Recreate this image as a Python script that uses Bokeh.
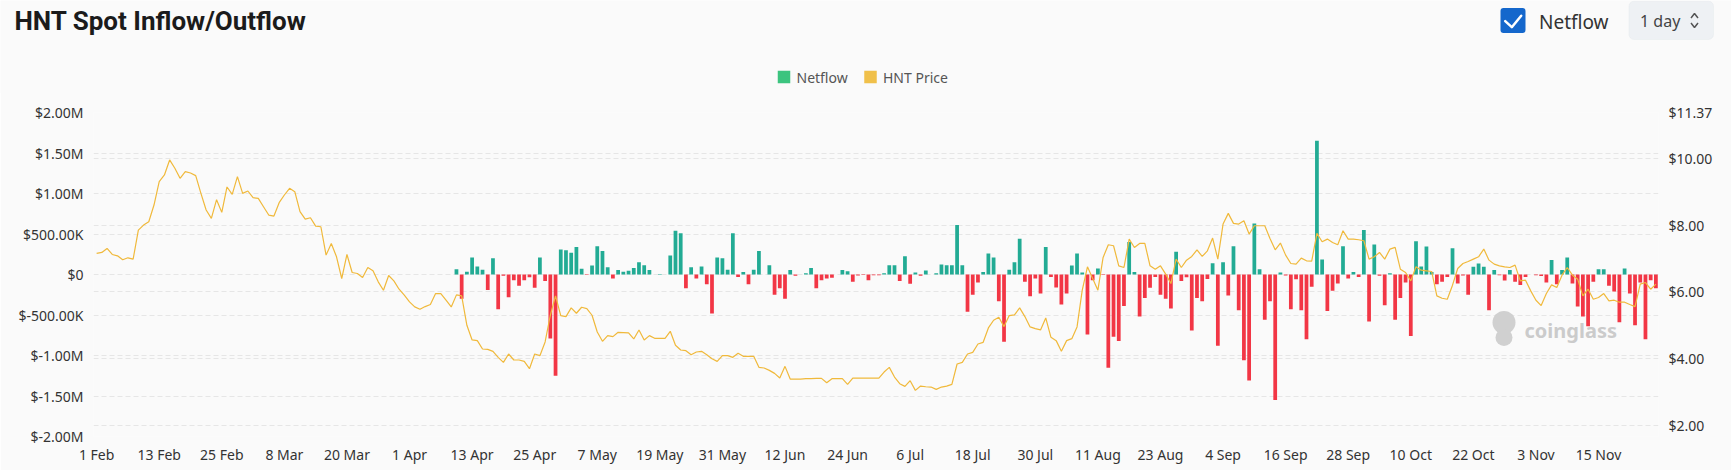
import pandas as pd
from bokeh.plotting import figure
from bokeh.models import (Range1d, LinearAxis, FixedTicker, Grid, NumeralTickFormatter,
                          ColumnDataSource, BoxAnnotation, Label)
from bokeh.layouts import column
from bokeh.embed import file_html
from bokeh.resources import INLINE
from bokeh.core.properties import value

# ---------------- data ----------------
title_text = "HNT Spot Inflow/Outflow"
series_names = ["Netflow", "HNT Price"]
dates = pd.date_range("2024-02-01", "2024-11-26", freq="D")

price = [
    7.15, 7.18, 7.30, 7.12, 7.08, 6.96, 7.02, 6.98, 7.85, 8.00,
    8.10, 8.60, 9.30, 9.50, 9.95, 9.70, 9.40, 9.60, 9.56, 9.48,
    8.95, 8.45, 8.20, 8.76, 8.38, 9.14, 8.92, 9.45, 8.95, 9.02,
    8.82, 8.80, 8.55, 8.30, 8.27, 8.67, 8.90, 9.10, 9.00, 8.40,
    8.18, 8.22, 7.97, 7.95, 7.10, 7.45, 7.05, 6.40, 7.12, 6.58,
    6.55, 6.43, 6.73, 6.63, 6.30, 6.05, 6.49, 6.33, 6.08, 5.90,
    5.70, 5.55, 5.48, 5.56, 5.62, 5.95, 5.95, 5.75, 5.55, 5.91,
    5.88, 5.00, 4.56, 4.54, 4.29, 4.28, 4.22, 4.04, 3.89, 4.14,
    3.96, 3.96, 3.92, 3.70, 4.14, 4.09, 4.50, 5.30, 5.88, 5.29,
    5.26, 5.52, 5.36, 5.54, 5.50, 5.30, 4.80, 4.52, 4.69, 4.66,
    4.79, 4.78, 4.77, 4.59, 4.86, 4.56, 4.69, 4.61, 4.61, 4.61,
    4.82, 4.40, 4.26, 4.24, 4.12, 4.20, 4.22, 4.12, 4.00, 3.92,
    4.09, 4.09, 4.04, 4.16, 4.07, 4.07, 4.07, 3.74, 3.72, 3.65,
    3.56, 3.42, 3.77, 3.39, 3.39, 3.39, 3.40, 3.40, 3.41, 3.41,
    3.28, 3.40, 3.40, 3.40, 3.23, 3.42, 3.42, 3.42, 3.42, 3.42,
    3.42, 3.60, 3.74, 3.45, 3.25, 3.17, 3.34, 3.05, 3.18, 3.16,
    3.15, 3.08, 3.15, 3.18, 3.23, 3.84, 3.89, 4.14, 4.19, 4.44,
    4.49, 4.92, 5.15, 5.24, 4.96, 5.29, 5.31, 5.52, 5.26, 4.95,
    4.90, 4.86, 5.22, 4.64, 4.54, 4.22, 4.54, 4.60, 4.95, 6.05,
    6.75, 6.40, 6.05, 7.03, 7.41, 7.38, 6.78, 6.73, 7.58, 7.33,
    7.45, 7.45, 6.78, 6.68, 6.78, 6.53, 6.25, 6.98, 6.73, 6.95,
    7.06, 7.26, 7.06, 7.23, 7.61, 6.98, 8.03, 8.35, 8.05, 8.03,
    8.13, 7.73, 7.98, 7.98, 7.98, 7.60, 7.26, 7.46, 7.10, 6.85,
    6.83, 7.01, 6.93, 6.92, 7.75, 7.50, 7.58, 7.48, 7.41, 7.83,
    7.58, 7.58, 7.56, 7.53, 6.98, 7.05, 7.18, 6.98, 7.28, 7.33,
    6.68, 6.58, 6.33, 6.75, 6.65, 6.63, 6.61, 5.88, 5.81, 5.78,
    6.20, 6.70, 6.85, 6.91, 6.98, 7.05, 7.28, 6.95, 6.83, 6.78,
    6.75, 6.73, 6.80, 6.33, 6.35, 6.03, 5.75, 5.59, 5.95, 6.21,
    6.13, 6.50, 6.73, 6.50, 6.38, 5.88, 6.08, 5.78, 5.83, 5.95,
    5.73, 5.75, 5.69, 5.69, 5.62, 5.56, 6.23, 6.28, 6.08, 6.23,
]

netflow_start = "2024-04-10"
netflow_m = [  # $ millions, daily from netflow_start
    0.066, -0.30, 0.033, 0.21, 0.10, 0.06, -0.19, 0.20, -0.43, -0.015, -0.28,
    -0.07, -0.14, -0.07, -0.035, -0.165, 0.21, -0.08, -0.79, -1.25, 0.31,
    0.30, 0.27, 0.34, 0.07, -0.005, 0.11, 0.35, 0.29, 0.09, -0.05,
    0.055, 0.033, 0.045, 0.08, 0.15, 0.115, 0.055, 0.0, 0.005, 0.0,
    0.235, 0.54, 0.51, -0.17, 0.09, -0.05, 0.10, -0.12, -0.48, 0.21,
    0.20, 0.06, 0.51, -0.03, 0.03, -0.12, 0.06, 0.29, 0.0, 0.115,
    -0.25, -0.17, -0.30, 0.055, -0.015, 0.0, 0.015, 0.08, -0.17, -0.07,
    -0.05, -0.04, 0.0, 0.055, 0.04, -0.09, -0.013, -0.005, -0.07, -0.01,
    -0.008, 0.015, 0.115, 0.115, -0.08, 0.225, -0.115, 0.025, -0.015, 0.05,
    0.0, 0.015, 0.125, 0.115, 0.115, 0.61, 0.115, -0.46, -0.25, -0.10,
    0.03, 0.26, 0.21, -0.33, -0.83, 0.06, 0.15, 0.44, -0.09, -0.27,
    -0.05, -0.235, 0.34, -0.03, -0.16, -0.37, -0.235, 0.11, 0.26, 0.025,
    -0.74, -0.07, 0.075, -0.005, -1.15, -0.77, -0.82, -0.39, 0.40, 0.03,
    -0.52, -0.29, -0.165, -0.03, -0.25, -0.30, -0.42, 0.28, -0.08, -0.035,
    -0.69, -0.29, -0.33, -0.055, 0.14, -0.88, 0.15, -0.26, 0.35, -0.44,
    -1.06, -1.31, 0.63, 0.065, -0.56, -0.33, -1.55, 0.025, -0.013, -0.43,
    -0.06, -0.44, -0.80, -0.15, 1.65, 0.185, -0.45, -0.20, -0.11, 0.35,
    -0.05, 0.03, -0.03, 0.55, -0.58, 0.37, -0.015, -0.38, 0.015, -0.56,
    -0.29, -0.10, -0.76, 0.41, 0.10, 0.345, 0.03, -0.12, -0.09, -0.03,
    0.325, -0.11, -0.012, -0.25, 0.095, 0.135, 0.095, -0.44, 0.055, -0.01,
    -0.075, 0.055, -0.09, -0.13, -0.03, 0.0, -0.01, -0.02, -0.10, 0.18,
    -0.12, 0.055, 0.21, -0.11, -0.395, -0.52, -0.64, -0.09, 0.065, 0.065,
    -0.14, -0.21, -0.59, 0.075, -0.235, -0.625, -0.10, -0.80, -0.07, -0.17,
]

left_ticks = [-2000000, -1500000, -1000000, -500000, 0, 500000, 1000000, 1500000, 2000000]
left_labels = ["$-2.00M", "$-1.50M", "$-1.00M", "$-500.00K", "$0",
               "$500.00K", "$1.00M", "$1.50M", "$2.00M"]
right_ticks = [2, 4, 6, 8, 10, 11.37]
x_tick_dates = ["2024-02-01", "2024-02-13", "2024-02-25", "2024-03-08", "2024-03-20",
                "2024-04-01", "2024-04-13", "2024-04-25", "2024-05-07", "2024-05-19",
                "2024-05-31", "2024-06-12", "2024-06-24", "2024-07-06", "2024-07-18",
                "2024-07-30", "2024-08-11", "2024-08-23", "2024-09-04", "2024-09-16",
                "2024-09-28", "2024-10-10", "2024-10-22", "2024-11-03", "2024-11-15"]
x_tick_labels = ["1 Feb", "13 Feb", "25 Feb", "8 Mar", "20 Mar", "1 Apr", "13 Apr",
                 "25 Apr", "7 May", "19 May", "31 May", "12 Jun", "24 Jun", "6 Jul",
                 "18 Jul", "30 Jul", "11 Aug", "23 Aug", "4 Sep", "16 Sep", "28 Sep",
                 "10 Oct", "22 Oct", "3 Nov", "15 Nov"]

# ---------------- style ----------------
BG = "#fafafa"
GREEN = "#22ab94"
RED = "#f23645"
YELLOW = "#f0b93b"
LEG_GREEN = "#3cc47f"
LEG_YELLOW = "#f0c04a"
GRID = "#e6e6e6"
FONT = "Noto Sans"

t0 = dates[0]
days = [(d - t0).days for d in dates]
nf_dates = pd.date_range(netflow_start, periods=len(netflow_m), freq="D")
nf_x = [(d - t0).days for d in nf_dates]
nf_top = [v * 1e6 for v in netflow_m]
nf_color = [GREEN if v >= 0 else RED for v in netflow_m]
x_tick_days = [(pd.Timestamp(d) - t0).days for d in x_tick_dates]

# ---------------- header (page pixel coordinates, y negated) ----------------
W = 1731
HEAD_H = 93  # one pixel overlaps the chart below
h = figure(width=W, height=HEAD_H, x_range=Range1d(0, W), y_range=Range1d(-HEAD_H, 0),
           output_backend="svg", toolbar_location=None, min_border=0,
           x_axis_location=None, y_axis_location=None,
           background_fill_color=BG, border_fill_color=BG, outline_line_color=None)
h.grid.visible = False

h.text(x=[14], y=[-20.5], text=[title_text], text_font=value("Roboto"),
       text_font_style="bold", text_font_size="26px", text_color="#1b1b1b",
       text_baseline="middle", text_align="left")

# checkbox
h.add_layout(BoxAnnotation(left=1500, right=1525, top=-7.5, bottom=-32.5,
                           fill_color="#1467cc", fill_alpha=1, line_color=None,
                           border_radius=3, level="underlay"))
h.line(x=[1504.7, 1511.3, 1520.7], y=[-20.7, -26.7, -15.3], line_color="white",
       line_width=2.5, line_cap="round", line_join="round")
h.text(x=[1538.5], y=[-21], text=["Netflow"], text_font=value(FONT),
       text_font_size="19px", text_color="#333333", text_baseline="middle")

# "1 day" selector
h.add_layout(BoxAnnotation(left=1628.5, right=1713, top=-0.7, bottom=-39,
                           fill_color="#eef1f4", fill_alpha=1, line_color="#dfe3e8",
                           line_width=1, border_radius=5, level="underlay"))
h.text(x=[1639.5], y=[-20], text=["1 day"], text_font=value(FONT),
       text_font_size="16px", text_color="#444444", text_baseline="middle")
h.line(x=[1690.5, 1694, 1697.5], y=[-17.5, -13, -17.5], line_color="#555555", line_width=1.5)
h.line(x=[1690.5, 1694, 1697.5], y=[-22.5, -27, -22.5], line_color="#555555", line_width=1.5)

# legend
leg_sq_x = [783.5, 870]
leg_txt_x = [796, 882.5]
h.rect(x=leg_sq_x, y=[-76.5, -76.5], width=12.5, height=12.5,
       fill_color=[LEG_GREEN, LEG_YELLOW], line_color=None)
h.text(x=leg_txt_x, y=[-76.5, -76.5], text=series_names, text_font=value(FONT),
       text_font_size="14px", text_color="#555555", text_baseline="middle")

# ---------------- main chart ----------------
p = figure(frame_width=1565, frame_height=324, x_range=Range1d(-0.6, 299.5),
           y_range=Range1d(-2000000, 2000000),
           output_backend="svg", toolbar_location=None,
           min_border_left=93, min_border_right=73, min_border_top=20, min_border_bottom=34,
           background_fill_color=BG, border_fill_color=BG, outline_line_color=None)
p.margin = (-1, 0, 0, 0)
p.extra_y_ranges = {"price": Range1d(1.67, 11.37)}

for fig in (h, p):
    if "frame_align" in fig.properties():
        fig.frame_align = False

p.xgrid.visible = False
p.ygrid.ticker = FixedTicker(ticks=left_ticks)
p.ygrid.grid_line_color = GRID
p.ygrid.grid_line_dash = "5 3"
p.ygrid.grid_line_width = 1
g2 = Grid(dimension=1, ticker=FixedTicker(ticks=right_ticks), y_range_name="price",
          grid_line_color=GRID, grid_line_dash="5 3", grid_line_width=1)
p.add_layout(g2)

# watermark (page pixel -> data helpers)
def day_at(px):
    return -0.6 + (px - 93) / 1565 * 300.1

def val_at(py):
    return 2000000 - (py - 112) / 324 * 4000000

p.scatter(x=[day_at(1503.5), day_at(1503.5)], y=[val_at(322), val_at(337)],
          size=[23, 17], marker="circle", fill_color="#d0d0d0", line_color=None)
p.add_layout(Label(x=day_at(1524), y=val_at(330), text="coinglass",
                   text_font=FONT, text_font_style="bold", text_font_size="20px",
                   text_color="#cbcbcb", text_baseline="middle"))

src = ColumnDataSource(dict(x=nf_x, top=nf_top, color=nf_color))
p.vbar(x="x", top="top", bottom=0, width=0.72, fill_color="color", line_color=None, source=src)
p.line(x=days, y=price, y_range_name="price", line_color=YELLOW, line_width=1.2)

ax = p.xaxis[0]
ax.ticker = FixedTicker(ticks=x_tick_days)
ax.major_label_overrides = {int(d): lab for d, lab in zip(x_tick_days, x_tick_labels)}
ly = p.yaxis[0]
ly.ticker = FixedTicker(ticks=left_ticks)
ly.major_label_overrides = {int(t): lab for t, lab in zip(left_ticks, left_labels)}
ry = LinearAxis(y_range_name="price", ticker=FixedTicker(ticks=right_ticks),
                formatter=NumeralTickFormatter(format="$0.00"))
p.add_layout(ry, "right")

for a in [ax, ly, ry]:
    a.axis_line_color = None
    a.major_tick_line_color = None
    a.minor_tick_line_color = None
    a.major_tick_out = 0
    a.major_tick_in = 0
    a.minor_tick_out = 0
    a.minor_tick_in = 0
    a.major_label_text_font = FONT
    a.major_label_text_font_size = "14px"
    a.major_label_text_color = "#333333"
    a.major_label_standoff = 10
ax.major_label_standoff = 8

layout = column(h, p, spacing=0)
open("out.html", "w").write(file_html(layout, INLINE))
